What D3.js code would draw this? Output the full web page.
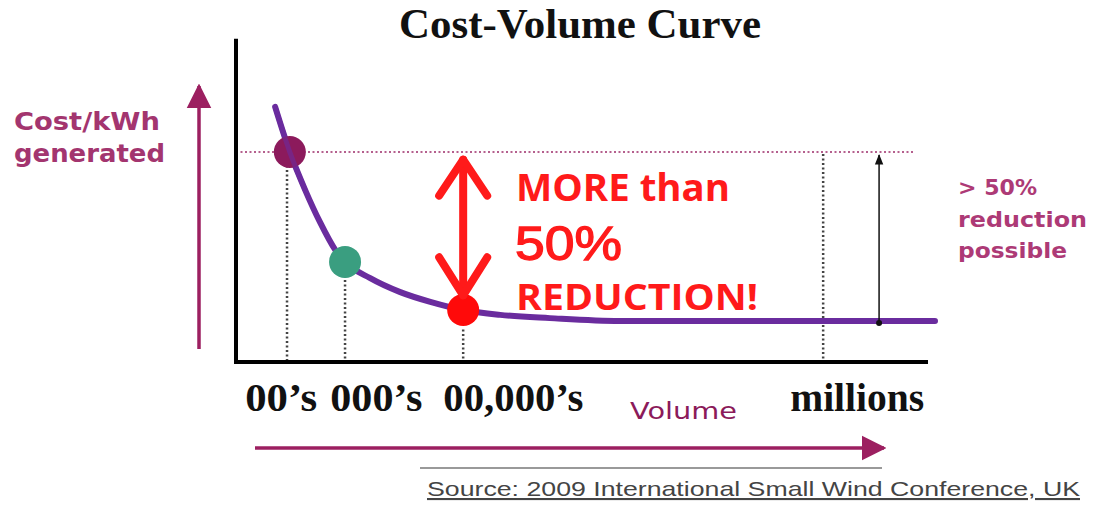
<!DOCTYPE html>
<html><head><meta charset="utf-8">
<script src="https://cdn.jsdelivr.net/npm/d3@7"></script>
<style>
html,body{margin:0;padding:0;background:#fff;}
svg{display:block;}
</style>
</head><body>
<svg id="chart" width="1095" height="505"></svg>
<script>
// ---------- data ----------
const curveX = [5.6, 7.7, 9.9, 12.0, 14.2, 15.6, 19.2, 23.5, 27.8, 32.5, 37.8, 44.9, 54.9, 100];
const curveY = [78.5, 64.6, 52.9, 43.1, 34.5, 30.8, 25.8, 21.5, 18.5, 16.0, 14.5, 13.5, 12.6, 12.6];
const markerX = [7.7, 15.6, 32.5];
const markerY = [64.6, 30.8, 16.0];
const markerColors = ["#8c1a5c", "#3a9e80", "#ff0a0a"];
const guideX = [7.3, 15.6, 32.5, 84.0];
const guideTop = [64.6, 30.8, 10.0, 64.0];
const tickPos = [6.4, 20.0, 39.6, 88.8];
const tickLabels = ["00’s", "000’s", "00,000’s", "millions"];
const tickWidths = [72, 92, 140, 134];
const noteLines = ["> 50%", "reduction", "possible"];
const noteWidths = [79, 129, 109];
const startLevel = 64.6;
const endLevel = 12.6;

// ---------- layout ----------
const svg = d3.select("#chart");
const x = d3.scaleLinear().domain([0, 100]).range([236, 935]);
const y = d3.scaleLinear().domain([0, 100]).range([362, 37]);

const defs = svg.append("defs");
defs.append("marker").attr("id","headMag").attr("viewBox","0 0 10 10").attr("refX",9).attr("refY",5)
  .attr("markerWidth",7).attr("markerHeight",8).attr("markerUnits","strokeWidth").attr("orient","auto")
  .append("path").attr("d","M0,0 L10,5 L0,10 Z").attr("fill","#9c1f60");
defs.append("marker").attr("id","headThin").attr("viewBox","0 0 10 10").attr("refX",9).attr("refY",5)
  .attr("markerWidth",7).attr("markerHeight",7).attr("markerUnits","strokeWidth").attr("orient","auto")
  .append("path").attr("d","M0,1 L10,5 L0,9 Z").attr("fill","#111");

// title
svg.append("text").attr("x", 399).attr("y", 38)
  .attr("font-family","'Liberation Serif','DejaVu Serif',serif").attr("font-weight","bold")
  .attr("font-size", 42).attr("fill","#111")
  .attr("textLength", 362).attr("lengthAdjust","spacingAndGlyphs").text("Cost-Volume Curve");

// y-axis label
const ylab = svg.append("text").attr("font-family","'DejaVu Sans',Verdana,sans-serif")
  .attr("font-weight","bold").attr("font-size",24).attr("fill","#a3356f");
ylab.append("tspan").attr("x",14).attr("y",130).attr("textLength",146).attr("lengthAdjust","spacingAndGlyphs").text("Cost/kWh");
ylab.append("tspan").attr("x",14).attr("y",162).attr("textLength",151).attr("lengthAdjust","spacingAndGlyphs").text("generated");

// up arrow
svg.append("line").attr("x1",199).attr("x2",199).attr("y1",349).attr("y2",86)
  .attr("stroke","#9c1f60").attr("stroke-width",3.5).attr("marker-end","url(#headMag)");

// horizontal start-level dotted line
svg.append("line").attr("x1",x(0)).attr("x2",x(97.2)).attr("y1",y(startLevel)).attr("y2",y(startLevel))
  .attr("stroke","#b5608e").attr("stroke-width",2).attr("stroke-dasharray","2,2.5");

// vertical guides
svg.selectAll(".guide").data(guideX).join("line").attr("class","guide")
  .attr("x1",d=>x(d)).attr("x2",d=>x(d))
  .attr("y1",(d,i)=>y(guideTop[i])).attr("y2",y(0))
  .attr("stroke","#444").attr("stroke-width",2.5).attr("stroke-dasharray","2,2.5");

// axes lines
svg.append("line").attr("x1",x(0)).attr("x2",x(0)).attr("y1",y(99.5)).attr("y2",y(0)+2)
  .attr("stroke","#000").attr("stroke-width",4);
svg.append("line").attr("x1",x(0)-2).attr("x2",x(99)).attr("y1",y(0)).attr("y2",y(0))
  .attr("stroke","#000").attr("stroke-width",4);

// curve
const pts = curveX.map((d,i)=>[d, curveY[i]]);
svg.append("path").datum(pts)
  .attr("d", d3.line().x(d=>x(d[0])).y(d=>y(d[1])).curve(d3.curveMonotoneX))
  .attr("fill","none").attr("stroke","#6a2c9e").attr("stroke-width",6).attr("stroke-linecap","round");

// markers
svg.selectAll(".mk").data(markerX).join("circle").attr("class","mk")
  .attr("cx",d=>x(d)).attr("cy",(d,i)=>y(markerY[i])).attr("r",16)
  .attr("fill",(d,i)=>markerColors[i]);
// curve over first marker (as in reference)
svg.append("path").datum(pts.slice(0,3))
  .attr("d", d3.line().x(d=>x(d[0])).y(d=>y(d[1])).curve(d3.curveMonotoneX))
  .attr("fill","none").attr("stroke","#6a2c9e").attr("stroke-width",5).attr("stroke-opacity",0.6);

// red double arrow
const ax = x(32.5), aTop = y(63.5), aBot = y(19.3);
const red = svg.append("g").attr("stroke","#ff1a1a").attr("stroke-width",8).attr("fill","none")
  .attr("stroke-linecap","round").attr("stroke-linejoin","round");
red.append("line").attr("x1",ax).attr("x2",ax).attr("y1",aTop+4).attr("y2",aBot-4);
red.append("path").attr("d",`M${ax-24},${aTop+40} L${ax},${aTop+4} L${ax+24},${aTop+40}`);
red.append("path").attr("d",`M${ax-24},${aBot-42} L${ax},${aBot-4} L${ax+24},${aBot-42}`);

// red annotation
const rf = "'Open Sans','Noto Sans',sans-serif";
svg.append("text").attr("x",516).attr("y",201).attr("font-family",rf).attr("font-weight","bold")
  .attr("font-size",37).attr("fill","#ff1a1a")
  .attr("textLength",214).attr("lengthAdjust","spacingAndGlyphs").text("MORE than");
svg.append("text").attr("x",515).attr("y",260).attr("font-family","'Liberation Sans',Arial,sans-serif")
  .attr("font-size",48).attr("fill","#ff1a1a").attr("stroke","#ff1a1a").attr("stroke-width",1.3)
  .attr("textLength",107).attr("lengthAdjust","spacingAndGlyphs").text("50%");
svg.append("text").attr("x",516).attr("y",310).attr("font-family",rf).attr("font-weight","bold")
  .attr("font-size",35).attr("fill","#ff1a1a")
  .attr("textLength",242).attr("lengthAdjust","spacingAndGlyphs").text("REDUCTION!");

// thin black arrow (reduction possible)
const tx = x(92);
svg.append("line").attr("x1",tx).attr("x2",tx).attr("y1",y(endLevel)+2).attr("y2",y(startLevel)+3)
  .attr("stroke","#111").attr("stroke-width",1.5).attr("marker-end","url(#headThin)");
svg.append("circle").attr("cx",tx).attr("cy",y(endLevel)+2).attr("r",3).attr("fill","#111");

// right annotation
const rt = svg.append("text").attr("font-family","'DejaVu Sans',Verdana,sans-serif")
  .attr("font-weight","bold").attr("font-size",21).attr("fill","#ad3a76");
rt.selectAll("tspan").data(noteLines).join("tspan")
  .attr("x",958).attr("y",(d,i)=>195 + i*31.5)
  .attr("textLength",(d,i)=>noteWidths[i]).attr("lengthAdjust","spacingAndGlyphs")
  .text(d=>d);

// x tick labels via axis
const xAxis = d3.axisBottom(x).tickValues(tickPos).tickFormat((d,i)=>tickLabels[i]).tickSize(0).tickPadding(0);
const gx = svg.append("g").attr("transform","translate(0,411)").call(xAxis);
gx.select(".domain").remove();
gx.selectAll("text").attr("font-family","'Liberation Serif','DejaVu Serif',serif")
  .attr("font-weight","bold").attr("font-size",40).attr("fill","#111").attr("dy","0")
  .attr("textLength",(d,i)=>tickWidths[i]).attr("lengthAdjust","spacingAndGlyphs");

// Volume label
svg.append("text").attr("x",630).attr("y",419)
  .attr("font-family","'DejaVu Sans',Verdana,sans-serif").attr("font-size",23).attr("fill","#8b1a5a")
  .attr("textLength",107).attr("lengthAdjust","spacingAndGlyphs").text("Volume");

// horizontal arrow
svg.append("line").attr("x1",255).attr("x2",884).attr("y1",448).attr("y2",448)
  .attr("stroke","#9c1f60").attr("stroke-width",3.5).attr("marker-end","url(#headMag)");

// source
svg.append("line").attr("x1",420).attr("x2",882).attr("y1",468).attr("y2",468)
  .attr("stroke","#999").attr("stroke-width",2);
svg.append("text").attr("x",427).attr("y",496)
  .attr("font-family","'Liberation Sans',Arial,sans-serif").attr("font-size",21).attr("fill","#444")
  .attr("text-decoration","underline")
  .attr("textLength",653).attr("lengthAdjust","spacingAndGlyphs")
  .text("Source: 2009 International Small Wind Conference, UK");
</script>
</body></html>
